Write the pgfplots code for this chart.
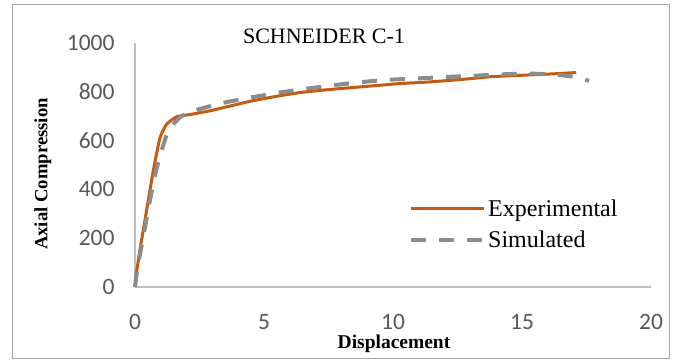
\documentclass[border=0pt]{standalone}
\usepackage{pgfplots}
\pgfplotsset{compat=1.18}
\usepackage{fontspec}
\setmainfont{Liberation Serif}
\newfontfamily\calibri{Carlito}
\definecolor{expor}{HTML}{C55A11}
\definecolor{simgray}{HTML}{8C8C8C}
\definecolor{axgray}{HTML}{BFBFBF}
\definecolor{tickgray}{HTML}{595959}
\definecolor{framegray}{HTML}{A6A6A6}
\begin{document}
\begin{tikzpicture}[x=1bp,y=1bp]
\path[use as bounding box] (0,0) rectangle (683,361);
\fill[white] (0,0) rectangle (683,361);
\draw[line width=1bp, framegray] (12,3) rectangle (669,356);
\node[font=\fontsize{22bp}{26bp}\selectfont] at (324,325) {SCHNEIDER C-1};
\node[font=\fontsize{19.5bp}{23bp}\selectfont\bfseries] at (394,17) {Displacement};
\node[font=\fontsize{18.7bp}{22bp}\selectfont\bfseries, rotate=90] at (43,187) {Axial Compression};
\begin{axis}[
  at={(135bp,74bp)}, anchor=south west,
  scale only axis, width=516bp, height=244bp,
  xmin=0, xmax=20, ymin=0, ymax=1000,
  xtick={0,5,10,15,20}, ytick={0,200,400,600,800,1000},
  axis lines*=left,
  axis line style={axgray, line width=1.3bp},
  major tick length=0pt,
  tick style={draw=none},
  /pgf/number format/assume math mode=true,
  /pgf/number format/1000 sep={},
  tick label style={font=\calibri\fontsize{23.5bp}{27bp}\selectfont, text=tickgray},
  xticklabel style={yshift=-24bp},
  yticklabel style={xshift=-17bp},
  clip=false,
  legend cell align=left,
  legend style={at={(axis cs:10.62,366)}, anchor=north west, draw=none, fill=none,
    inner sep=0pt, font=\fontsize{24bp}{28bp}\selectfont, row sep=9bp},
  legend image code/.code={\draw[#1] (0bp,0bp) -- (73bp,0bp);},
]
\addplot[expor, line width=3bp, smooth, tension=0.25] coordinates {
(0,0) (0.04,45) (0.19,151) (0.45,314) (0.71,478) (0.97,613) (1.23,668) (1.62,698)
(2.2,708) (2.9,722) (3.7,742) (4.5,762) (5.4,780) (6.4,797) (7.5,809) (8.5,818) (9.4,826) (10.3,834) (11.2,839) (12,845) (12.9,853) (13.8,862) (14.6,866) (15.5,870) (16.3,874) (17.1,879)
};
\addlegendentry{Experimental}
\addplot[simgray, line width=4bp, dash pattern=on 15bp off 13bp, smooth, tension=0.25] coordinates {
(0,0) (0.1,80) (0.32,205) (0.58,355) (0.8,470) (1.03,559) (1.25,630) (1.49,668) (1.8,700)
(2.27,722) (3.3,752) (4.4,775) (5.5,795) (6.6,812) (7.7,827) (8.7,839) (9.77,849) (10.8,854) (11.9,860) (13,865) (14.1,871) (15.2,875) (16.2,871) (17.0,862) (17.6,845)
};
\addlegendentry{Simulated}
\end{axis}
\end{tikzpicture}
\end{document}
